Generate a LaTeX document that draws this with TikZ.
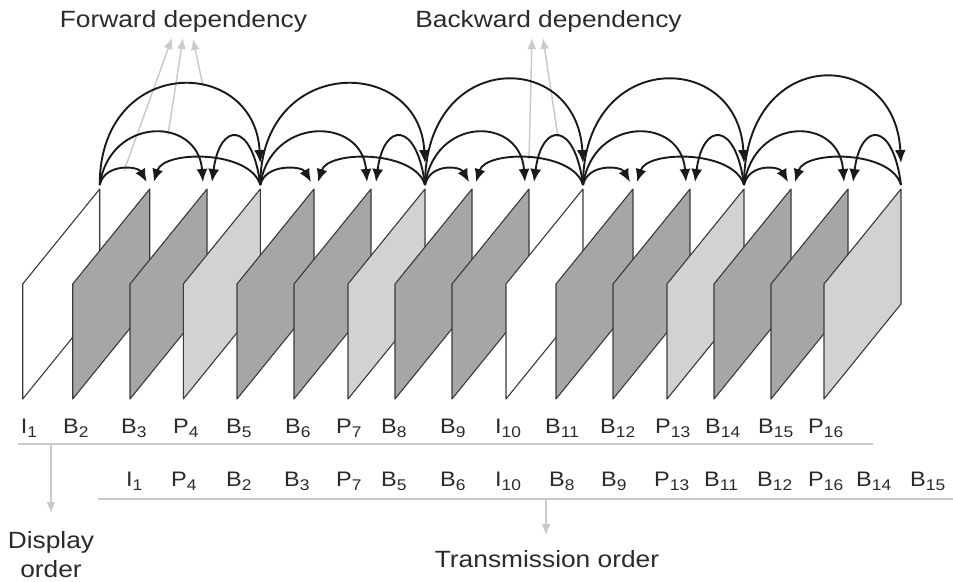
\documentclass[tikz,border=0pt]{standalone}
\usepackage{fontspec}
\setmainfont[FakeStretch=1.12]{Liberation Sans}
\usetikzlibrary{arrows.meta,calc}
\definecolor{frameline}{HTML}{3A3A3A}
\definecolor{bfill}{HTML}{A6A6A6}
\definecolor{pfill}{HTML}{D2D2D2}
\definecolor{guide}{HTML}{CACACA}
\definecolor{ink}{HTML}{1A1A1A}
\definecolor{txt}{HTML}{2B2B2B}
% picture type letter with its index as a lowered subscript
\newcommand\flab[2]{#1\raisebox{-4pt}{\fontsize{15.5}{15.5}\selectfont #2}}

\begin{document}
\begin{tikzpicture}[x=1pt,y=-1pt,
  frame/.style={draw=frameline,line width=1.1pt,line join=round},
  dep/.style={draw=ink,line width=1.9pt,-{Latex[length=13pt,width=11pt]}},
  hint/.style={draw=guide,line width=1.5pt,-{Latex[length=11pt,width=9pt]}},
  rule/.style={draw=guide,line width=1.2pt},
  lab/.style={anchor=base west,inner sep=0pt,text=txt,font=\fontsize{21}{21}\selectfont},
  big/.style={anchor=base,inner sep=0pt,text=txt,font=\fontsize{23.5}{28}\selectfont}]
\useasboundingbox (0,0) rectangle (953,581);

% ---- picture frames, drawn left to right so each covers the previous one
\foreach \i/\L/\col in {1/22.7/white, 2/72.7/bfill, 3/130/bfill, 4/183.3/pfill,
    5/237/bfill, 6/294/bfill, 7/348/pfill, 8/395/bfill, 9/452/bfill,
    10/506/white, 11/556/bfill, 12/613/bfill, 13/667/pfill, 14/714/bfill,
    15/771/bfill, 16/824/pfill} {
  \draw[frame,fill=\col] (\L,399) -- (\L,284) -- (\L+77,189) -- (\L+77,304) -- cycle;
  \coordinate (t\i) at (\L+77,189);
}

% ---- pointers to the two dependency captions
\node[big] (fwd) at (183.5,27) {Forward dependency};
\node[big] (bwd) at (548.5,27) {Backward dependency};
\coordinate (f1s) at (124,171); \coordinate (f1e) at (172,38);
\coordinate (f2s) at (168,135); \coordinate (f2e) at (183,38);
\coordinate (f3s) at (203,86);  \coordinate (f3e) at (193,39);
\coordinate (b1s) at (529,159); \coordinate (b1e) at (532,38);
\coordinate (b2s) at (558,137); \coordinate (b2e) at (543,38);
\foreach \s/\e in {f1s/f1e, f2s/f2e, f3s/f3e, b1s/b1e, b2s/b2e}
  \draw[hint] (\s) -- (\e);

% ---- prediction arrows of each group: anchor A, two B pictures, anchor C
\foreach \a/\p/\q/\c/\h in {1/2/3/4/130, 4/5/6/7/130, 7/8/9/10/136,
    10/11/12/13/136, 13/14/15/16/140} {
  \draw[dep] ($(t\a)+(0,-4)$) .. controls +(0,-\h) and +(-6,-\h+22) .. ($(t\c)+(0,-26)$);
  \draw[dep] ($(t\a)+(0,-4)$) .. controls +(5,-22) and +(-9,-16) .. ($(t\p)+(-3,-7)$);
  \draw[dep] ($(t\a)+(0,-4)$) .. controls +(10,-69) and +(-5,-66) .. ($(t\q)+(-4,-7)$);
  \draw[dep] ($(t\c)+(0,-4)$) .. controls +(-10,-35) and +(10,-32) .. ($(t\p)+(4,-7)$);
  \draw[dep] ($(t\c)+(0,-4)$) .. controls +(-8,-64) and +(8,-61) .. ($(t\q)+(5,-7)$);
}

% ---- display order row
\foreach \n/\x/\t/\k in {d1/20.7/I/1, d2/63/B/2, d3/121/B/3, d4/173/P/4,
    d5/226/B/5, d6/285/B/6, d7/336/P/7, d8/381/B/8, d9/440/B/9,
    d10/495/I/10, d11/545/B/11, d12/600/B/12, d13/655/P/13, d14/705/B/14,
    d15/758/B/15, d16/808/P/16}
  \node[lab] (\n) at (\x,433) {\flab{\t}{\k}};
\draw[rule] (18,444) -- (873,444);

% ---- transmission order row
\foreach \n/\x/\t/\k in {s1/126/I/1, s2/171/P/4, s3/226/B/2, s4/284/B/3,
    s5/336/P/7, s6/381/B/5, s7/440/B/6, s8/495/I/10, s9/549/B/8,
    s10/601/B/9, s11/654/P/13, s12/704/B/11, s13/757/B/12, s14/808/P/16,
    s15/856/B/14, s16/910/B/15}
  \node[lab] (\n) at (\x,486) {\flab{\t}{\k}};
\draw[rule] (98,499) -- (953,499);

% ---- captions of the two orders
\coordinate (dtop) at (51,444);  \coordinate (dtip) at (51,513);
\coordinate (ttop) at (546,499); \coordinate (ttip) at (546,535);
\draw[hint] (dtop) -- (dtip);
\draw[hint] (ttop) -- (ttip);
\node[big] (disp1) at (51,548) {Display};
\node[big] (disp2) at (51,577) {order};
\node[big] (trans) at (547,567) {Transmission order};
\end{tikzpicture}
\end{document}
